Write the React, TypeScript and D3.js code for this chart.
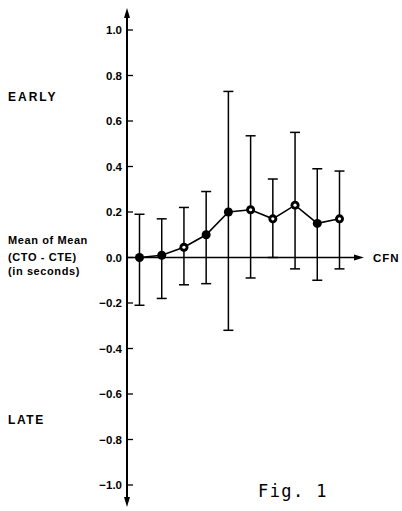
import React from "react";
import * as d3 from "d3";

// CFN index along the horizontal axis
const cfn = [1, 2, 3, 4, 5, 6, 7, 8, 9, 10];
// mean of mean (CTO - CTE), seconds
const means = [0.0, 0.01, 0.045, 0.1, 0.2, 0.21, 0.17, 0.23, 0.15, 0.17];
// top and bottom of each error bar
const upper = [0.19, 0.17, 0.22, 0.29, 0.73, 0.535, 0.345, 0.55, 0.39, 0.38];
const lower = [-0.21, -0.18, -0.12, -0.115, -0.32, -0.09, 0.0, -0.05, -0.1, -0.05];
// points drawn with an open centre
const openPoints = [3, 6, 7, 8, 10];
const yTicks = [1.0, 0.8, 0.6, 0.4, 0.2, 0.0, -0.2, -0.4, -0.6, -0.8, -1.0];

const W = 402;
const H = 511;

const App = () => {
  const x = d3.scaleLinear().domain([1, 10]).range([139.5, 339.5]);
  const y = d3.scaleLinear().domain([-1, 1]).range([485, 30]);
  const axisX = 127;
  const y0 = y(0);

  const line = d3
    .line<number>()
    .x((_, i) => x(cfn[i]))
    .y((d) => y(d));

  const fmt = (v: number) => (v < 0 ? "\u2212" + Math.abs(v).toFixed(1) : v.toFixed(1));
  const sans = "'Liberation Sans', Arial, sans-serif";

  return (
    <svg
      width={W}
      height={H}
      style={{ position: "absolute", left: 0, top: 0, background: "#fff" }}
    >
      {/* vertical axis with arrows both ends */}
      <line x1={axisX} x2={axisX} y1={12} y2={503} stroke="#000" strokeWidth={2} />
      <path d={`M${axisX - 3},${18} L${axisX},${8} L${axisX + 3},${18} Z`} fill="#000" />
      <path d={`M${axisX - 3},${497} L${axisX},${507} L${axisX + 3},${497} Z`} fill="#000" />

      {/* horizontal axis */}
      <line x1={axisX} x2={358} y1={y0} y2={y0} stroke="#000" strokeWidth={1.6} />
      <path d={`M${354},${y0 - 3} L${364},${y0} L${354},${y0 + 3} Z`} fill="#000" />
      <text x={373} y={y0 + 4} fontFamily={sans} fontWeight="bold" fontSize={11.5} letterSpacing={1}>
        CFN
      </text>

      {/* y ticks */}
      {yTicks.map((t) => (
        <g key={t}>
          <line x1={axisX} x2={axisX + 6} y1={y(t)} y2={y(t)} stroke="#000" strokeWidth={1.3} />
          <text
            x={axisX - 5}
            y={y(t) + 4}
            textAnchor="end"
            fontFamily={sans}
            fontWeight="bold"
            fontSize={11.5}
          >
            {fmt(t)}
          </text>
        </g>
      ))}

      {/* error bars */}
      {cfn.map((c, i) => (
        <g key={c} stroke="#000" strokeWidth={1.5}>
          <line x1={x(c)} x2={x(c)} y1={y(upper[i])} y2={y(lower[i])} />
          <line x1={x(c) - 5} x2={x(c) + 5} y1={y(upper[i])} y2={y(upper[i])} />
          <line x1={x(c) - 5} x2={x(c) + 5} y1={y(lower[i])} y2={y(lower[i])} />
        </g>
      ))}

      {/* mean line */}
      <path d={line(means) || ""} fill="none" stroke="#000" strokeWidth={1.6} />

      {/* markers */}
      {cfn.map((c, i) => (
        <g key={c}>
          <circle cx={x(c)} cy={y(means[i])} r={4.5} fill="#000" />
          {openPoints.includes(c) && <circle cx={x(c)} cy={y(means[i])} r={1.6} fill="#fff" />}
        </g>
      ))}

      {/* left side labels */}
      <text x={8} y={101} fontFamily={sans} fontWeight="bold" fontSize={12} letterSpacing={2}>
        EARLY
      </text>
      <text fontFamily={sans} fontWeight="bold" fontSize={11} letterSpacing={0.6}>
        <tspan x={8} y={244}>Mean of Mean</tspan>
        <tspan x={8} y={261}>(CTO - CTE)</tspan>
        <tspan x={8} y={275}>(in seconds)</tspan>
      </text>
      <text x={8} y={424} fontFamily={sans} fontWeight="bold" fontSize={12} letterSpacing={1.6}>
        LATE
      </text>

      <text
        x={258}
        y={497}
        fontFamily="'DejaVu Sans Mono', 'Liberation Mono', monospace"
        fontSize={17}
        letterSpacing={1.4}
      >
        Fig. 1
      </text>
    </svg>
  );
};

export default App;
